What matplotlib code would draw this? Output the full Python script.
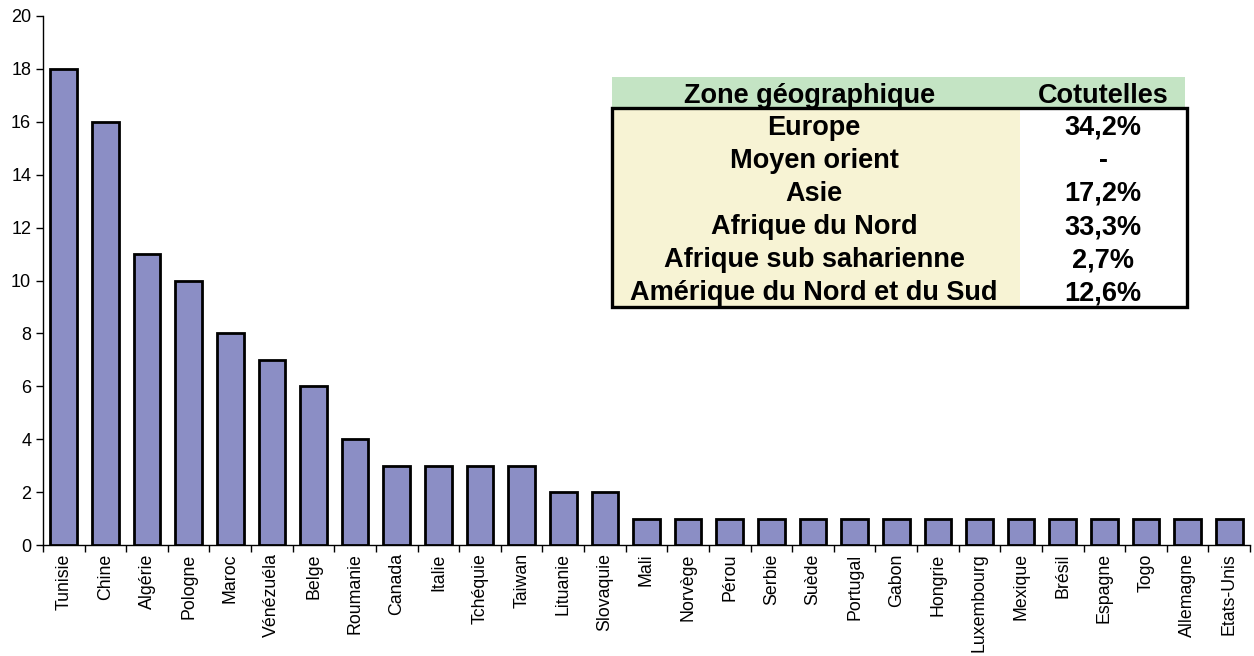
import matplotlib
matplotlib.use("Agg")
import matplotlib.pyplot as plt
from matplotlib.patches import Rectangle

plt.rcParams['font.family'] = ['Liberation Sans', 'DejaVu Sans']

pays = ["Tunisie", "Chine", "Algérie", "Pologne", "Maroc", "Vénézuéla", "Belge",
        "Roumanie", "Canada", "Italie", "Tchéquie", "Taiwan", "Lituanie", "Slovaquie",
        "Mali", "Norvège", "Pérou", "Serbie", "Suède", "Portugal", "Gabon", "Hongrie",
        "Luxembourg", "Mexique", "Brésil", "Espagne", "Togo", "Allemagne", "Etats-Unis"]
nombre = [18, 16, 11, 10, 8, 7, 6, 4, 3, 3, 3, 3, 2, 2,
          1, 1, 1, 1, 1, 1, 1, 1, 1, 1, 1, 1, 1, 1, 1]

zones = ["Europe", "Moyen orient", "Asie", "Afrique du Nord",
         "Afrique sub saharienne", "Amérique du Nord et du Sud"]
cotutelles = ["34,2%", "-", "17,2%", "33,3%", "2,7%", "12,6%"]

W, H = 1254, 656
fig = plt.figure(figsize=(W / 100, H / 100), dpi=100)
ax = fig.add_axes([43 / W, (H - 545) / H, (1250 - 43) / W, (545 - 16) / H])

x = range(len(pays))
ax.bar(x, nombre, width=0.64, color="#8B8EC5", edgecolor="black", linewidth=2, zorder=3)

ax.set_xlim(-0.5, len(pays) - 0.5)
ax.set_ylim(0, 20)
ax.set_yticks(range(0, 21, 2))
ax.set_xticks(x)
ax.set_xticklabels(pays, rotation=90, fontsize=12.8)
ax.set_xticks([i - 0.5 for i in range(len(pays) + 1)], minor=True)
ax.tick_params(axis="x", which="major", length=0, pad=6)
ax.tick_params(axis="x", which="minor", length=5, direction="out", width=1)
ax.tick_params(axis="y", labelsize=13, length=5, direction="out", width=1)
for s in ["top", "right"]:
    ax.spines[s].set_visible(False)
for s in ["left", "bottom"]:
    ax.spines[s].set_linewidth(1)

# tableau des zones
def fx(px):
    return px / W

def fy(py):
    return 1 - py / H

fig.add_artist(Rectangle((fx(612), fy(107)), fx(1185) - fx(612), fy(77) - fy(107),
                         transform=fig.transFigure, facecolor="#C4E4C4", edgecolor="none"))
fig.add_artist(Rectangle((fx(612), fy(307)), fx(1020) - fx(612), fy(108) - fy(307),
                         transform=fig.transFigure, facecolor="#F7F3D4", edgecolor="none"))
fig.add_artist(Rectangle((fx(612), fy(307)), fx(1187) - fx(612), fy(108) - fy(307),
                         transform=fig.transFigure, facecolor="none", edgecolor="black",
                         linewidth=2.4))

fs = 19.5
fig.text(fx(810), fy(96), "Zone géographique", ha="center", va="center",
         fontsize=fs, fontweight="bold")
fig.text(fx(1103), fy(96), "Cotutelles", ha="center", va="center",
         fontsize=fs, fontweight="bold")
row_h = (307 - 108) / len(zones)
for i, (z, c) in enumerate(zip(zones, cotutelles)):
    yc = 108 + row_h * (i + 0.5) + 3
    fig.text(fx(814), fy(yc), z, ha="center", va="center", fontsize=fs, fontweight="bold")
    fig.text(fx(1103), fy(yc), c, ha="center", va="center", fontsize=fs, fontweight="bold")

fig.savefig("out.png", dpi=100)
